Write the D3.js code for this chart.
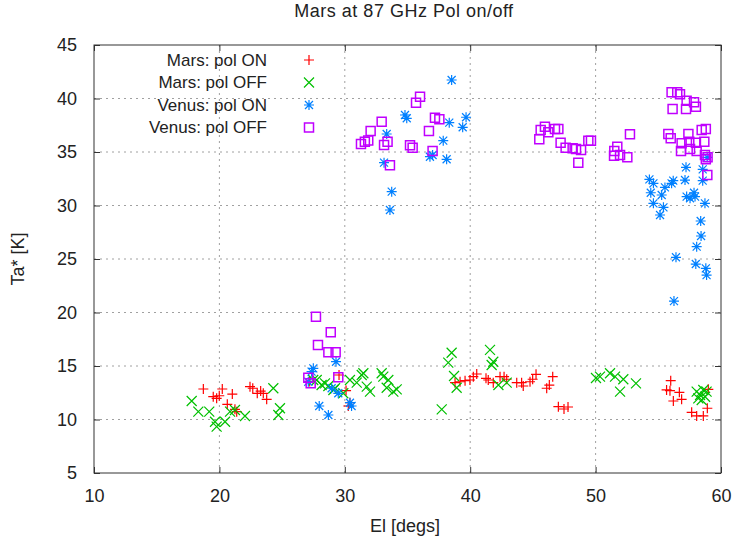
<!DOCTYPE html>
<html>
<head>
<meta charset="utf-8">
<script src="https://cdn.jsdelivr.net/npm/d3@7"></script>
<style>
body { margin: 0; background: #fff; }
text { font-family: "Liberation Sans", Arial, sans-serif; fill: #222; }
</style>
</head>
<body>
<div id="chart"></div>
<script>
const xTicks = [10, 20, 30, 40, 50, 60];
const yTicks = [5, 10, 15, 20, 25, 30, 35, 40, 45];
const seriesNames = ['Mars: pol ON', 'Mars: pol OFF', 'Venus: pol ON', 'Venus: pol OFF'];

// Mars pol ON
const marsOnEl = [18.72, 19.51, 19.78, 19.99, 20.23, 21.03, 20.63, 21.24, 21.38, 22.44, 22.66, 23.02, 23.29, 23.5, 23.77,
  27.2, 29.54, 30.1, 30.28, 30.41,
  38.79, 39.19, 39.59, 39.98, 40.25, 40.52, 41.26, 41.44, 41.84, 42.38, 42.7, 42.91, 43.71, 44.1, 44.23, 44.77, 44.98, 45.25,
  46.1, 46.31, 46.58, 47.03, 47.48, 47.8,
  55.99, 55.66, 55.93, 56.68, 56.2, 56.86, 57.66, 58.06, 58.59, 58.91, 58.99];
const marsOnTa = [12.85, 12.13, 11.98, 12.22, 12.85, 12.38, 11.42, 10.95, 10.73, 13.07, 12.92, 12.45, 12.66, 12.45, 11.89,
  13.55, 14.16, 12.7, 11.26, 11.57,
  13.44, 13.53, 13.63, 13.69, 14.0, 14.25, 13.85, 13.69, 13.44, 14.0, 14.0, 13.76, 13.44, 13.44, 13.13, 13.53, 13.76, 14.22,
  12.92, 13.22, 14.0, 11.2, 10.98, 11.17,
  13.63, 12.76, 12.69, 12.54, 11.73, 11.89, 10.67, 10.33, 10.33, 11.05, 12.82];

// Mars pol OFF
const marsOffEl = [17.79, 18.32, 19.19, 19.65, 19.78, 20.45, 20.85, 21.24, 22.04, 24.3, 24.83, 24.7,
  27.48, 28.15, 29.09, 29.88, 27.76, 28.42, 28.69, 29.22, 30.41, 30.95, 31.35, 31.75,
  31.48, 32.01, 32.94, 33.07, 33.47, 33.34, 33.87, 34.14,
  37.73, 38.52, 38.25, 38.71, 38.92, 41.58, 41.84, 41.71, 42.25, 42.91,
  50.03, 50.35, 51.15, 51.55, 51.95, 52.21, 53.22,
  58.06, 58.33, 58.59, 58.19, 58.73, 58.46, 58.85];
const marsOffTa = [11.73, 10.73, 10.73, 9.79, 9.33, 9.79, 10.73, 10.89, 10.33, 12.92, 11.05, 10.42,
  13.69, 13.22, 12.76, 12.45, 13.69, 13.38, 13.13, 12.92, 13.69, 13.44, 14.16, 13.07,
  14.32, 12.6, 14.32, 14.0, 13.69, 12.97, 12.6, 12.82,
  10.95, 16.24, 15.31, 14.07, 12.97, 16.5, 15.4, 15.09, 13.22, 13.44,
  13.88, 14.0, 14.32, 14.0, 12.6, 13.76, 13.38,
  12.6, 12.29, 12.76, 11.98, 12.13, 11.82, 12.6];

// Venus pol ON
const venusOnEl = [29.3, 27.49, 27.35, 27.09, 28.95, 29.48, 27.96, 28.69, 30.41, 30.54,
  34.8, 34.94, 33.34, 33.13, 33.74, 33.6, 38.33, 39.67, 39.4, 37.85, 36.79, 37.0, 38.12, 38.52,
  57.21, 58.54, 54.29, 54.61, 54.4, 55.53, 55.27, 56.06, 56.19, 57.13, 58.54, 54.61, 55.41, 55.14,
  57.26, 57.53, 57.85, 57.93, 58.72, 58.38, 58.41, 58.06, 56.41, 57.99, 58.79, 58.85, 56.25, 58.9];
const venusOnTa = [15.4, 14.78, 14.47, 13.53, 12.92, 12.45, 11.26, 10.42, 11.57, 11.26,
  38.46, 38.15, 36.68, 34.0, 31.29, 29.58, 37.74, 38.25, 37.31, 36.06, 34.56, 34.72, 34.32, 41.73,
  33.57, 33.38, 32.44, 32.07, 31.19, 31.69, 30.98, 32.07, 32.32, 32.38, 32.32, 30.2, 29.83, 29.11,
  30.83, 30.68, 31.19, 30.83, 30.2, 28.55, 27.15, 26.15, 25.16, 24.53, 24.13, 23.5, 21.07, 34.5];

// Venus pol OFF
const venusOffEl = [27.7, 28.88, 27.86, 28.69, 29.27, 27.09, 27.28, 29.48,
  36.0, 35.68, 32.94, 37.19, 37.54, 32.06, 36.71, 31.87, 31.6, 31.29, 33.41, 33.13, 35.2, 35.41, 37.0, 33.6,
  45.96, 45.62, 46.23, 45.51, 46.76, 47.03, 47.21, 47.61, 48.17, 48.44, 48.84, 48.62, 49.42, 49.63,
  52.74, 51.49, 51.73, 51.47, 51.95, 52.53,
  56.06, 56.51, 56.73, 57.26, 57.85, 58.0, 56.14, 57.21, 55.8, 55.99, 57.4, 58.46, 58.79,
  56.86, 57.47, 58.0, 58.67, 56.81, 57.53, 58.06, 58.72, 58.93, 58.79, 58.91];
const venusOffTa = [19.6, 18.15, 16.96, 16.28, 16.28, 13.91, 13.38, 13.94,
  40.17, 39.61, 37.83, 38.2, 38.05, 36.96, 36.96, 36.08, 35.96, 35.75, 35.96, 35.65, 35.63, 35.4, 35.09, 33.76,
  37.36, 37.06, 36.84, 36.18, 37.15, 37.15, 35.87, 35.4, 35.34, 35.28, 35.19, 34.0, 36.06, 36.06,
  36.65, 35.09, 35.49, 34.66, 34.72, 34.5,
  40.58, 40.58, 40.39, 39.79, 39.64, 39.23, 39.02, 39.02, 36.68, 36.28, 36.68, 37.06, 37.15,
  35.81, 35.96, 35.87, 35.96, 35.09, 35.28, 35.09, 34.72, 34.5, 34.32, 32.85];

const width = 734;
const height = 544;
const margin = {top: 45, right: 13, bottom: 71, left: 94};

const svg = d3.select('#chart')
  .append('svg')
  .attr('width', width)
  .attr('height', height);

const x = d3.scaleLinear()
  .domain([10, 60])
  .range([margin.left, width - margin.right]);

const y = d3.scaleLinear()
  .domain([5, 45])
  .range([height - margin.bottom, margin.top]);

// grid
svg.append('g')
  .selectAll('line')
  .data(xTicks.slice(1, -1))
  .join('line')
  .attr('x1', d => x(d)).attr('x2', d => x(d))
  .attr('y1', y(45)).attr('y2', y(5))
  .attr('stroke', '#a0a0a0')
  .attr('stroke-dasharray', '2,4');

svg.append('g')
  .selectAll('line')
  .data(yTicks.slice(1, -1))
  .join('line')
  .attr('x1', x(10)).attr('x2', x(60))
  .attr('y1', d => y(d)).attr('y2', d => y(d))
  .attr('stroke', '#a0a0a0')
  .attr('stroke-dasharray', '2,4');

// axes with inner ticks (mirrored)
const axisStyle = g => {
  g.select('.domain').remove();
  g.selectAll('.tick line').attr('stroke', '#333');
  g.selectAll('.tick text').attr('fill', '#222')
    .style('font-family', '"Liberation Sans", Arial, sans-serif')
    .style('font-size', '18px');
};

svg.append('g')
  .attr('transform', `translate(0,${y(5)})`)
  .call(d3.axisBottom(x).tickValues(xTicks).tickSizeInner(-6).tickPadding(16))
  .call(axisStyle);

svg.append('g')
  .attr('transform', `translate(0,${y(45)})`)
  .call(d3.axisTop(x).tickValues(xTicks).tickSizeInner(-6).tickFormat(''))
  .call(axisStyle);

svg.append('g')
  .attr('transform', `translate(${x(10)},0)`)
  .call(d3.axisLeft(y).tickValues(yTicks).tickSizeInner(-6).tickPadding(17))
  .call(axisStyle);

svg.append('g')
  .attr('transform', `translate(${x(60)},0)`)
  .call(d3.axisRight(y).tickValues(yTicks).tickSizeInner(-6).tickFormat(''))
  .call(axisStyle);

svg.append('rect')
  .attr('x', x(10)).attr('y', y(45))
  .attr('width', x(60) - x(10)).attr('height', y(5) - y(45))
  .attr('fill', 'none')
  .attr('stroke', '#333')
  .attr('stroke-width', 1);

// marker shapes
const colors = ['#ff0000', '#00c000', '#0080ff', '#c000ff'];
const s = 5;
const markers = [
  `M${-s},0H${s}M0,${-s}V${s}`,
  `M${-s},${-s}L${s},${s}M${-s},${s}L${s},${-s}`,
  `M${-s},0H${s}M0,${-s}V${s}M${-s * 0.8},${-s * 0.8}L${s * 0.8},${s * 0.8}M${-s * 0.8},${s * 0.8}L${s * 0.8},${-s * 0.8}`,
  `M-4.5,-4.5H4.5V4.5H-4.5Z`
];

const series = [
  {el: marsOnEl, ta: marsOnTa},
  {el: marsOffEl, ta: marsOffTa},
  {el: venusOnEl, ta: venusOnTa},
  {el: venusOffEl, ta: venusOffTa}
];

const plot = svg.append('g');
series.forEach((sr, k) => {
  plot.append('g')
    .selectAll('path')
    .data(sr.el.map((e, i) => [e, sr.ta[i]]))
    .join('path')
    .attr('transform', d => `translate(${x(d[0])},${y(d[1])})`)
    .attr('d', markers[k])
    .attr('fill', 'none')
    .attr('stroke', colors[k])
    .attr('stroke-width', k === 3 ? 1.5 : 1.2);
});

// legend
const legend = svg.append('g');
seriesNames.forEach((name, k) => {
  const ly = 60 + k * 22.5;
  legend.append('text')
    .attr('x', 267).attr('y', ly)
    .attr('dy', '0.35em')
    .attr('text-anchor', 'end')
    .style('font-size', '17px')
    .text(name);
  legend.append('path')
    .attr('transform', `translate(309,${ly})`)
    .attr('d', markers[k])
    .attr('fill', 'none')
    .attr('stroke', colors[k])
    .attr('stroke-width', k === 3 ? 1.5 : 1.2);
});

// titles
svg.append('text')
  .attr('x', 404).attr('y', 17)
  .attr('text-anchor', 'middle')
  .style('font-size', '18px')
  .style('letter-spacing', '0.5px')
  .text('Mars at 87 GHz Pol on/off');

svg.append('text')
  .attr('x', 405).attr('y', 532)
  .attr('text-anchor', 'middle')
  .style('font-size', '18px')
  .text('El [degs]');

svg.append('text')
  .attr('transform', 'translate(24,259) rotate(-90)')
  .attr('text-anchor', 'middle')
  .style('font-size', '18px')
  .text('Ta* [K]');
</script>
</body>
</html>
